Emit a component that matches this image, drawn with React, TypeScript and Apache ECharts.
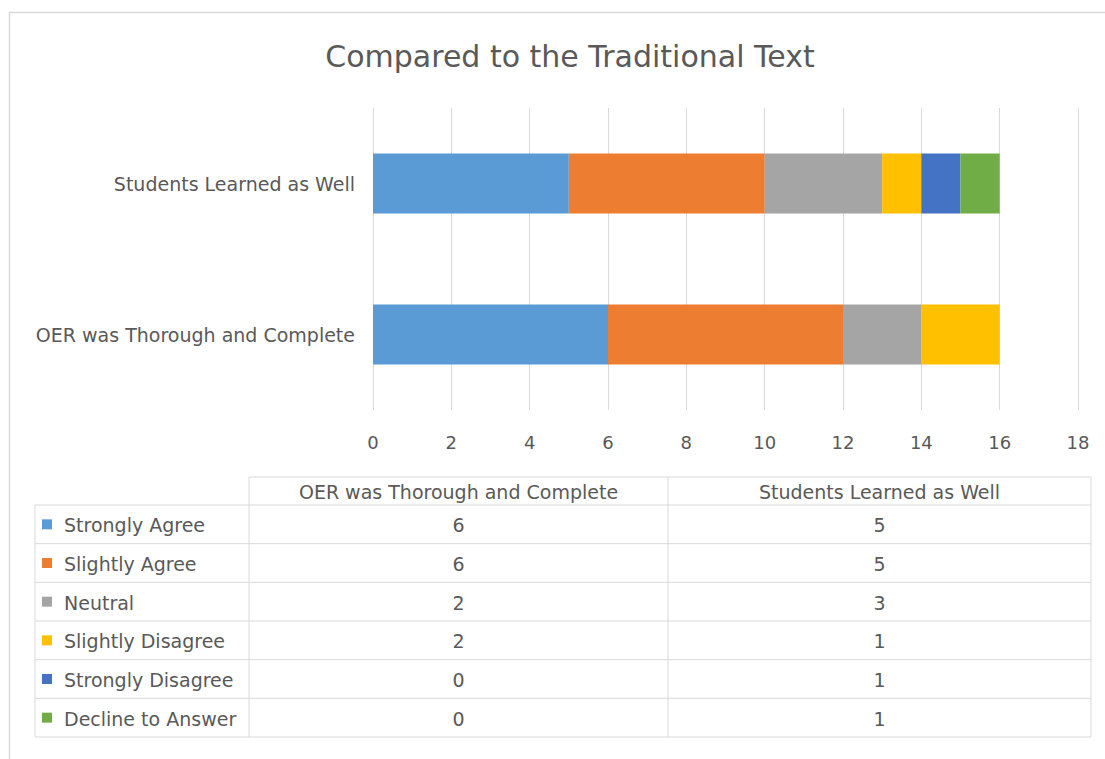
import React, { useEffect, useRef } from "react";
import * as echarts from "echarts";

const categories = ["OER was Thorough and Complete", "Students Learned as Well"];
const seriesNames = ["Strongly Agree", "Slightly Agree", "Neutral", "Slightly Disagree", "Strongly Disagree", "Decline to Answer"];
const oerValues = [6, 6, 2, 2, 0, 0];
const studentsValues = [5, 5, 3, 1, 1, 1];
const colors = ["#5B9BD5", "#ED7D31", "#A5A5A5", "#FFC000", "#4472C4", "#70AD47"];
const title = "Compared to the Traditional Text";

const FONT = "'DejaVu Sans', 'Open Sans', sans-serif";
const TXT = "#595959";
const LINE = "#d9d9d9";

export default function App() {
  const ref = useRef<HTMLDivElement>(null);
  useEffect(() => {
    if (!ref.current) return;
    const chart = echarts.init(ref.current, undefined, { renderer: "svg" });

    const tableLeft = 35;
    const col1 = 249;
    const col2 = 668;
    const tableRight = 1091;
    const headerTop = 477;
    const rowTop = 505;
    const rowH = (737 - 505) / seriesNames.length;
    const tableBottom = rowTop + rowH * seriesNames.length;

    const g: any[] = [];
    g.push({ type: "rect", shape: { x: 9.5, y: 12.5, width: 1200, height: 900 }, style: { fill: "none", stroke: LINE, lineWidth: 1.5 }, silent: true });
    const hline = (x1: number, x2: number, y: number) =>
      g.push({ type: "line", shape: { x1, y1: y, x2, y2: y }, style: { stroke: LINE, lineWidth: 1 }, silent: true });
    const vline = (x: number, y1: number, y2: number) =>
      g.push({ type: "line", shape: { x1: x, y1, x2: x, y2 }, style: { stroke: LINE, lineWidth: 1 }, silent: true });
    hline(col1, tableRight, headerTop);
    for (let i = 0; i <= seriesNames.length; i++) hline(tableLeft, tableRight, rowTop + i * rowH);
    vline(tableLeft, rowTop, tableBottom);
    vline(col1, headerTop, tableBottom);
    vline(col2, headerTop, tableBottom);
    vline(tableRight, headerTop, tableBottom);
    const colCenters = [(col1 + col2) / 2, (col2 + tableRight) / 2];
    const colData = [oerValues, studentsValues];
    categories.forEach((c, i) => {
      g.push({ type: "text", x: colCenters[i], y: (headerTop + rowTop) / 2 + 1, style: { text: c, fill: TXT, font: `19px ${FONT}`, align: "center", verticalAlign: "middle" }, silent: true });
    });
    seriesNames.forEach((name, r) => {
      const cy = rowTop + r * rowH + rowH / 2;
      g.push({ type: "rect", shape: { x: 42, y: cy - 5, width: 10, height: 10 }, style: { fill: colors[r] }, silent: true });
      g.push({ type: "text", x: 64, y: cy + 1, style: { text: name, fill: TXT, font: `19px ${FONT}`, align: "left", verticalAlign: "middle" }, silent: true });
      colData.forEach((vals, ci) => {
        g.push({ type: "text", x: colCenters[ci], y: cy + 1, style: { text: String(vals[r]), fill: TXT, font: `19px ${FONT}`, align: "center", verticalAlign: "middle" }, silent: true });
      });
    });

    chart.setOption({
      animation: false,
      backgroundColor: "#ffffff",
      title: {
        text: title,
        left: 565,
        top: 36,
        textAlign: "center",
        textStyle: { color: TXT, fontSize: 30, fontWeight: "normal", fontFamily: FONT },
      },
      grid: { left: 373, right: 27, top: 108, bottom: 349, containLabel: false },
      xAxis: {
        type: "value",
        min: 0,
        max: 18,
        interval: 2,
        axisLine: { show: false },
        axisTick: { show: false },
        axisLabel: { color: TXT, fontSize: 18, fontFamily: FONT, margin: 23 },
        splitLine: { lineStyle: { color: LINE, width: 1 } },
      },
      yAxis: {
        type: "category",
        data: categories,
        axisLine: { show: false },
        axisTick: { show: false },
        axisLabel: { color: TXT, fontSize: 19, fontFamily: FONT, margin: 18 },
      },
      series: seriesNames.map((name, i) => ({
        name,
        type: "bar",
        stack: "total",
        barWidth: 60,
        data: [oerValues[i], studentsValues[i]],
        itemStyle: { color: colors[i] },
      })),
      graphic: g,
    });
    return () => chart.dispose();
  }, []);
  return <div ref={ref} style={{ position: "absolute", left: 0, top: 0, width: 1105, height: 759 }} />;
}
